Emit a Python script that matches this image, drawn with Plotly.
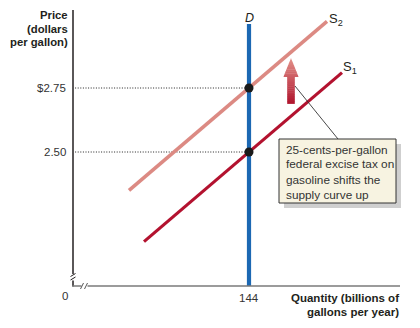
import plotly.graph_objects as go

# ---- data -------------------------------------------------------------
price_ticks = [2.50, 2.75]
price_tick_text = ["2.50", "$2.75"]
quantity_ticks = [144]
quantity_tick_text = ["144"]

demand_q = 144
demand_price_span = [1.98, 3.00]

supply1_q = [109, 175]          # S1 before the tax
supply1_p = [2.15, 2.81]
supply2_q = [104, 170]          # S2 after the 25-cent tax
supply2_p = [2.35, 3.01]

equilibrium_q = [144, 144]
equilibrium_p = [2.50, 2.75]

note_lines = ["25-cents-per-gallon", "federal excise tax on",
              "gasoline shifts the", "supply curve up"]

# ---- layout geometry (pixels) -----------------------------------------
W, H = 420, 328
L, R, T, B = 73, 20, 10, 42
PW, PH = W - L - R, H - T - B
X_RANGE = [85.333, 194.333]
Y_RANGE = [1.9766, 3.0547]


def pxx(px):
    return (px - L) / PW


def pxy(py):
    return (H - B - py) / PH


FONT = "Liberation Sans, Arial, Helvetica, sans-serif"
DARK = "#231f20"

fig = go.Figure()

# dotted guides from the price axis to the equilibrium points
for p in equilibrium_p:
    fig.add_trace(go.Scatter(
        x=[X_RANGE[0] + 0.7, demand_q], y=[p, p], mode="lines",
        line=dict(color="#222", width=1, dash="1px,1.6px"), hoverinfo="skip"))

# demand (vertical)
fig.add_trace(go.Scatter(
    x=[demand_q, demand_q], y=[Y_RANGE[0], demand_price_span[1]], mode="lines",
    line=dict(color="#1c68b3", width=4.2), hoverinfo="skip"))

# supply curves
fig.add_trace(go.Scatter(
    x=supply2_q, y=supply2_p, mode="lines",
    line=dict(color="#dc8a83", width=3.6), hoverinfo="skip"))
fig.add_trace(go.Scatter(
    x=supply1_q, y=supply1_p, mode="lines",
    line=dict(color="#b3122f", width=3.2), hoverinfo="skip"))

# equilibrium points
fig.add_trace(go.Scatter(
    x=equilibrium_q, y=equilibrium_p, mode="markers",
    marker=dict(color="#1a1a1a", size=9), hoverinfo="skip"))

shapes = []

# axes with break marks
ax_y = dict(type="line", xref="paper", yref="paper",
            line=dict(color=DARK, width=1.5))
shapes.append({**ax_y, "x0": pxx(73), "x1": pxx(73), "y0": pxy(10), "y1": pxy(274)})
shapes.append({**ax_y, "x0": pxx(73), "x1": pxx(73), "y0": pxy(280.5), "y1": pxy(286.5)})
brk = dict(type="line", xref="paper", yref="paper", line=dict(color=DARK, width=1))
shapes.append({**brk, "x0": pxx(70.5), "x1": pxx(75.5), "y0": pxy(276.5), "y1": pxy(273.5)})
shapes.append({**brk, "x0": pxx(70.5), "x1": pxx(75.5), "y0": pxy(280), "y1": pxy(277)})

ax_x = dict(type="line", xref="paper", yref="paper",
            line=dict(color="#7a7a7a", width=1.5))
shapes.append({**ax_x, "x0": pxx(72.3), "x1": pxx(81.5), "y0": pxy(286), "y1": pxy(286)})
shapes.append({**ax_x, "x0": pxx(87.5), "x1": pxx(400), "y0": pxy(286), "y1": pxy(286)})
brk_x = dict(type="line", xref="paper", yref="paper", line=dict(color="#555", width=1))
shapes.append({**brk_x, "x0": pxx(80.5), "x1": pxx(83.5), "y0": pxy(289), "y1": pxy(283)})
shapes.append({**brk_x, "x0": pxx(84.5), "x1": pxx(87.5), "y0": pxy(289), "y1": pxy(283)})

# shift arrow with a red gradient, built from thin horizontal slices
cx, tip, head_base, tail = 291, 58, 76.5, 103.5
head_hw, shaft_hw = 7.5, 3.8
top_rgb, bot_rgb = (226, 146, 138), (176, 20, 45)


def half_width(y):
    if y <= head_base:
        return head_hw * (y - tip) / (head_base - tip)
    return shaft_hw


n = 24
edges = sorted(set([tip + (tail - tip) * i / n for i in range(n + 1)] + [head_base]))
for y0, y1 in zip(edges[:-1], edges[1:]):
    t = ((y0 + y1) / 2 - tip) / (tail - tip)
    c = tuple(round(a + (b - a) * t) for a, b in zip(top_rgb, bot_rgb))
    w0 = half_width(y0) if y0 < head_base else shaft_hw
    w1 = half_width(y1)
    path = (f"M{pxx(cx - w0)},{pxy(y0)} L{pxx(cx + w0)},{pxy(y0)} "
            f"L{pxx(cx + w1)},{pxy(y1 + 0.4)} L{pxx(cx - w1)},{pxy(y1 + 0.4)} Z")
    shapes.append(dict(type="path", xref="paper", yref="paper", path=path,
                       fillcolor=f"rgb{c}", line=dict(width=0)))

# leader line from the arrow to the note
shapes.append(dict(type="line", xref="paper", yref="paper",
                   x0=pxx(295), y0=pxy(86), x1=pxx(338), y1=pxy(139),
                   line=dict(color="#333", width=0.9)))

# note box with drop shadow
shapes.append(dict(type="rect", xref="paper", yref="paper",
                   x0=pxx(284), x1=pxx(401), y0=pxy(144), y1=pxy(208),
                   fillcolor="#cfcfcf", line=dict(width=0)))
shapes.append(dict(type="rect", xref="paper", yref="paper",
                   x0=pxx(279), x1=pxx(396), y0=pxy(139), y1=pxy(203),
                   fillcolor="#f7f3e1", line=dict(color="#333", width=1)))

annotations = []

# price axis title and tick labels
for i, line in enumerate(["Price", "(dollars", "per gallon)"]):
    annotations.append(dict(
        xref="paper", yref="paper", x=pxx(70), y=pxy(15 + 13.7 * i),
        xanchor="right", yanchor="middle", text=f"<b>{line}</b>", showarrow=False,
        font=dict(family=FONT, size=11.3, color=DARK)))
for v, lab in zip(price_ticks, price_tick_text):
    annotations.append(dict(
        xref="paper", yref="y", x=pxx(67.5), y=v, xanchor="right", yanchor="middle",
        text=lab, showarrow=False, font=dict(family=FONT, size=11.5, color="#333")))

# quantity axis labels
annotations.append(dict(
    xref="paper", yref="paper", x=pxx(65), y=pxy(296), xanchor="center", yanchor="middle",
    text="0", showarrow=False, font=dict(family=FONT, size=11.5, color="#333")))
for v, lab in zip(quantity_ticks, quantity_tick_text):
    annotations.append(dict(
        xref="x", yref="paper", x=v, y=pxy(298), xanchor="center", yanchor="middle",
        text=lab, showarrow=False, font=dict(family=FONT, size=11.5, color="#333")))
for i, line in enumerate(["Quantity (billions of", "gallons per year)"]):
    annotations.append(dict(
        xref="paper", yref="paper", x=pxx(400.5), y=pxy(298 + 14 * i),
        xanchor="right", yanchor="middle", text=f"<b>{line}</b>", showarrow=False,
        font=dict(family=FONT, size=11.5, color=DARK)))

# curve labels
annotations.append(dict(
    xref="x", yref="paper", x=demand_q, y=pxy(17.5), xanchor="center", yanchor="middle",
    text="<i>D</i>", showarrow=False, font=dict(family=FONT, size=12.5, color=DARK)))
annotations.append(dict(
    xref="paper", yref="paper", x=pxx(326.5), y=pxy(19), xanchor="left", yanchor="middle",
    text="S<sub>2</sub>", showarrow=False, font=dict(family=FONT, size=13, color=DARK)))
annotations.append(dict(
    xref="paper", yref="paper", x=pxx(340.5), y=pxy(67.5), xanchor="left", yanchor="middle",
    text="S<sub>1</sub>", showarrow=False, font=dict(family=FONT, size=13, color=DARK)))

# note text, one annotation per line for tight leading
for i, line in enumerate(note_lines):
    annotations.append(dict(
        xref="paper", yref="paper", x=pxx(283.5), y=pxy(149.5 + 15 * i),
        xanchor="left", yanchor="middle", text=line, showarrow=False,
        font=dict(family=FONT, size=11.8, color="#333")))

fig.update_layout(
    width=W, height=H,
    margin=dict(l=L, r=R, t=T, b=B),
    paper_bgcolor="white", plot_bgcolor="white",
    showlegend=False,
    xaxis=dict(range=X_RANGE, visible=False, fixedrange=True),
    yaxis=dict(range=Y_RANGE, visible=False, fixedrange=True),
    shapes=shapes, annotations=annotations,
)

fig.write_html("out.html", config={"displayModeBar": False})
